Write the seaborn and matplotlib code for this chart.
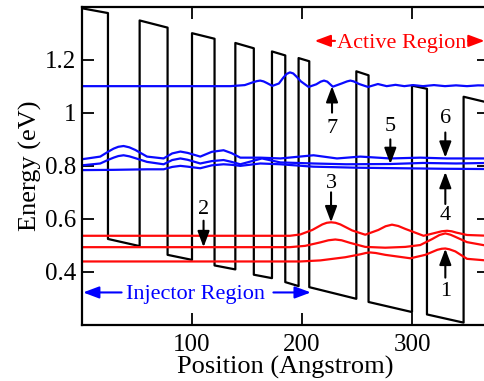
import matplotlib
matplotlib.use("Agg")
import matplotlib.pyplot as plt
import seaborn as sns
import pandas as pd

# conduction band profile (Angstrom / eV)
barrier_left = [0, 52.4, 100, 139.4, 172.7, 196.9, 249.4, 300, 346.9]
barrier_right = [23.6, 77.8, 120.5, 156.2, 184.8, 206.6, 260.5, 313.6, 370]
barrier_top_left = [1.394, 1.348, 1.300, 1.263, 1.231, 1.206, 1.156, 1.102, 1.060]
barrier_top_right = [1.376, 1.321, 1.279, 1.243, 1.216, 1.194, 1.141, 1.090, 1.037]
well_bottom_left = [0.523, 0.463, 0.423, 0.388, 0.360, 0.341, 0.285, 0.238]
well_bottom_right = [0.496, 0.444, 0.408, 0.375, 0.345, 0.297, 0.247, 0.207]

# upper state 7
lev7_x = [0, 135, 148, 155, 159, 162, 165, 168, 173, 179, 183, 186, 189, 192, 195, 199, 206,
          213, 217, 220, 223, 228, 236, 241, 244, 247, 252, 260, 269, 277, 285, 293, 301, 310,
          320, 330, 340, 350, 360, 370]
lev7_e = [1.100, 1.100, 1.104, 1.114, 1.119, 1.121, 1.118, 1.112, 1.101, 1.110, 1.132, 1.146,
          1.152, 1.148, 1.136, 1.118, 1.097, 1.107, 1.117, 1.121, 1.117, 1.098, 1.110, 1.118,
          1.121, 1.118, 1.108, 1.097, 1.108, 1.100, 1.105, 1.100, 1.104, 1.100, 1.104, 1.100,
          1.103, 1.100, 1.103, 1.102]

# blue states 6, 5, 4
lev6_x = [0, 16.6, 24, 28.7, 33, 37.8, 43, 48.5, 59.1, 74.2, 82, 89.4, 96, 107.5, 118, 128.7,
          136, 143.9, 162.1, 180.3, 210.5, 231.8, 253, 280.3, 307.5, 331.8, 370]
lev6_e = [0.824, 0.834, 0.853, 0.864, 0.871, 0.874, 0.869, 0.859, 0.834, 0.827, 0.846, 0.853,
          0.848, 0.834, 0.852, 0.858, 0.847, 0.830, 0.830, 0.827, 0.839, 0.827, 0.834, 0.827,
          0.830, 0.827, 0.827]
lev5_x = [0, 16.6, 24, 28.7, 33, 37.8, 43, 48.5, 59.1, 74.2, 82, 89.4, 96, 107.5, 118, 128.7,
          136, 143.9, 163.6, 180.3, 210.5, 240, 280.3, 310, 340, 370]
lev5_e = [0.801, 0.808, 0.822, 0.830, 0.836, 0.839, 0.835, 0.828, 0.814, 0.805, 0.821, 0.827,
          0.822, 0.808, 0.817, 0.821, 0.814, 0.805, 0.827, 0.812, 0.808, 0.805, 0.806, 0.810,
          0.808, 0.810]
lev4_x = [0, 28.7, 59.1, 74.2, 82, 89.4, 96, 107.5, 118, 128.7, 136, 143.9, 162.1, 180.3, 210,
          250, 290, 330, 370]
lev4_e = [0.783, 0.784, 0.786, 0.786, 0.795, 0.799, 0.796, 0.790, 0.801, 0.805, 0.803, 0.799,
          0.808, 0.805, 0.796, 0.792, 0.790, 0.788, 0.787]

# red states 3, 2, 1
lev3_x = [0, 189, 198.5, 209.4, 218.5, 222.5, 226.4, 230.5, 234.8, 245.7, 257.5, 269.4,
          276, 281.8, 287.5, 293.9, 310.5, 321.2, 327, 331.8, 336, 340.3, 350, 370]
lev3_e = [0.535, 0.535, 0.540, 0.557, 0.578, 0.584, 0.586, 0.584, 0.578, 0.555, 0.539, 0.557,
          0.571, 0.577, 0.572, 0.561, 0.535, 0.546, 0.552, 0.554, 0.552, 0.547, 0.538, 0.535]
lev2_x = [0, 189, 202.9, 216.6, 224, 230.3, 236, 243.9, 257.5, 275.7, 293.9, 307.5, 318.5,
          325, 330.3, 335, 339.4, 350, 370]
lev2_e = [0.492, 0.492, 0.497, 0.510, 0.518, 0.521, 0.518, 0.508, 0.493, 0.490, 0.493, 0.500,
          0.523, 0.538, 0.544, 0.539, 0.531, 0.511, 0.496]
lev1_x = [0, 198.5, 216.6, 239.4, 253, 258, 262.1, 267, 275.7, 298.5, 312.1, 323, 327,
          330.3, 334, 339.4, 350, 370]
lev1_e = [0.438, 0.438, 0.442, 0.454, 0.465, 0.470, 0.472, 0.470, 0.463, 0.450, 0.463, 0.482,
          0.486, 0.487, 0.484, 0.476, 0.448, 0.441]

# state labels: (text, x, text_y, tail_y, tip_y)
state_labels = [
    ("7", 227.3, 0.940, 1.000, 1.100),
    ("5", 280.3, 0.946, 0.899, 0.806),
    ("6", 330.3, 0.976, 0.925, 0.830),
    ("4", 330.3, 0.611, 0.655, 0.776),
    ("3", 226.4, 0.733, 0.699, 0.586),
    ("2", 110.5, 0.636, 0.592, 0.492),
    ("1", 330.3, 0.323, 0.377, 0.486),
]

sns.set_style("ticks")
plt.rcParams['font.family'] = ['Liberation Serif', 'DejaVu Serif']
plt.rcParams['text.color'] = 'black'
plt.rcParams['axes.labelcolor'] = 'black'

fig = plt.figure(figsize=(4.84, 3.81), dpi=100)
ax = fig.add_axes([82 / 484, 56.5 / 381, 407 / 484, 317.8 / 381])

# build the band edge polyline from the corners
px, pe = [], []
for i in range(len(barrier_left)):
    px += [barrier_left[i], barrier_right[i]]
    pe += [barrier_top_left[i], barrier_top_right[i]]
    if i < len(well_bottom_left):
        px += [barrier_right[i], barrier_left[i + 1]]
        pe += [well_bottom_left[i], well_bottom_right[i]]
profile = pd.DataFrame({"x": px, "e": pe})
sns.lineplot(data=profile, x="x", y="e", sort=False, estimator=None,
             color="black", lw=1.6, ax=ax)

for xs, es in [(lev7_x, lev7_e), (lev6_x, lev6_e), (lev5_x, lev5_e), (lev4_x, lev4_e)]:
    sns.lineplot(x=xs, y=es, sort=False, estimator=None, color="#0a0aff", lw=1.6, ax=ax)
for xs, es in [(lev3_x, lev3_e), (lev2_x, lev2_e), (lev1_x, lev1_e)]:
    sns.lineplot(x=xs, y=es, sort=False, estimator=None, color="#ff0a0a", lw=1.6, ax=ax)

arrow_kw = dict(arrowstyle="-|>,head_length=0.8,head_width=0.3", color="black",
                lw=1.5, mutation_scale=12, shrinkA=0, shrinkB=0)
for lab, x, ty, tail, tip in state_labels:
    ax.text(x, ty, lab, fontsize=16, ha="center", va="center")
    ax.annotate("", xy=(x, tip), xytext=(x, tail), arrowprops=arrow_kw)

# region labels
ax.text(290.5, 1.244, "Active Region", color="red", fontsize=16, ha="center", va="baseline")
red_kw = dict(arrowstyle="-|>,head_length=0.8,head_width=0.3", color="red",
              lw=1.5, mutation_scale=12, shrinkA=0, shrinkB=0)
ax.annotate("", xy=(211.5, 1.271), xytext=(230, 1.271), arrowprops=red_kw)
ax.annotate("", xy=(366, 1.271), xytext=(351, 1.271), arrowprops=red_kw)

ax.text(103.2, 0.297, "Injector Region", color="blue", fontsize=16, ha="center", va="baseline")
blue_kw = dict(arrowstyle="-|>,head_length=0.8,head_width=0.3", color="blue",
               lw=1.5, mutation_scale=12, shrinkA=0, shrinkB=0)
ax.annotate("", xy=(1, 0.321), xytext=(36, 0.321), arrowprops=blue_kw)
ax.annotate("", xy=(208, 0.321), xytext=(174, 0.321), arrowprops=blue_kw)

ax.set_xlim(0, 370)
ax.set_ylim(0.2, 1.4)
ax.set_xticks([100, 200, 300])
ax.set_yticks([0.4, 0.6, 0.8, 1.0, 1.2])
ax.set_yticklabels(["0.4", "0.6", "0.8", "1", "1.2"])
ax.tick_params(direction="in", length=8.6, width=1.3, top=True, right=True,
               labelsize=18, color="black", labelcolor="black")
ax.tick_params(axis="x", pad=7)
ax.tick_params(axis="y", pad=4)
for s in ax.spines.values():
    s.set_linewidth(1.6)
    s.set_color("black")
ax.set_xlabel("Position (Angstrom)", fontsize=19, labelpad=0)
ax.set_ylabel("Energy (eV)", fontsize=19, labelpad=2)

fig.savefig("out.png", dpi=100)
